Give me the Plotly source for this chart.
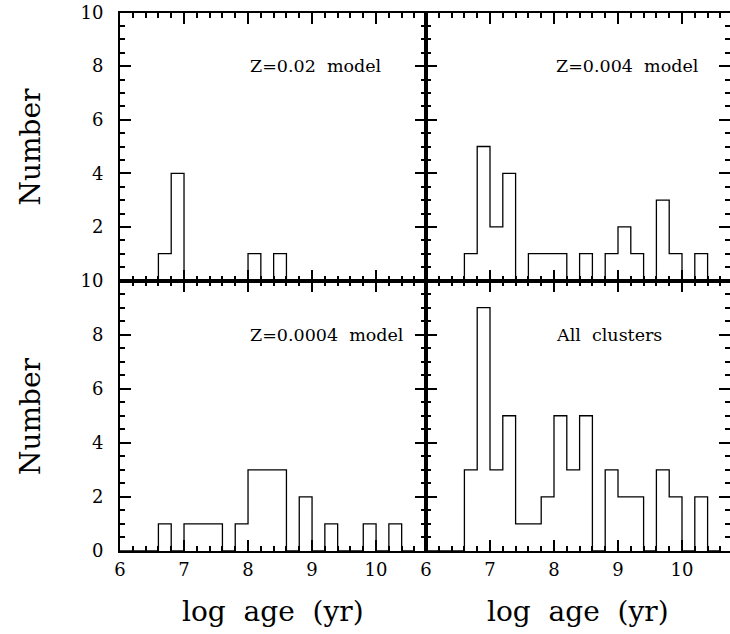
import numpy as np
import plotly.graph_objects as go

# Bin edges (log age, 0.2 dex bins)
bin_left = [6.0, 6.2, 6.4, 6.6, 6.8, 7.0, 7.2, 7.4, 7.6, 7.8, 8.0, 8.2,
            8.4, 8.6, 8.8, 9.0, 9.2, 9.4, 9.6, 9.8, 10.0, 10.2, 10.4]
bin_width = 0.2

counts_z002 = [0, 0, 0, 1, 4, 0, 0, 0, 0, 0, 1, 0, 1, 0, 0, 0, 0, 0, 0, 0, 0, 0, 0]
counts_z0004 = [0, 0, 0, 1, 5, 2, 4, 0, 1, 1, 1, 0, 1, 0, 1, 2, 1, 0, 3, 1, 0, 1, 0]
counts_z00004 = [0, 0, 0, 1, 0, 1, 1, 1, 0, 1, 3, 3, 3, 0, 2, 0, 1, 0, 0, 1, 0, 1, 0]
counts_all = [0, 0, 0, 3, 9, 3, 5, 1, 1, 2, 5, 3, 5, 0, 3, 2, 2, 0, 3, 2, 0, 2, 0]

panel_labels = ["Z=0.02\u00a0 model", "Z=0.004\u00a0 model",
                "Z=0.0004\u00a0 model", "All\u00a0 clusters"]
x_ticks = [6, 7, 8, 9, 10]
y_ticks = [0, 2, 4, 6, 8, 10]

series = [counts_z002, counts_z0004, counts_z00004, counts_all]

fig = go.Figure()
for i, c in enumerate(series):
    edges = list(bin_left) + [bin_left[-1] + bin_width]
    yv = list(c) + [0]
    sfx = "" if i == 0 else str(i + 1)
    fig.add_trace(go.Scatter(
        x=edges, y=yv, mode="lines", line=dict(shape="hv", color="black", width=1.3),
        xaxis="x" + sfx, yaxis="y" + sfx, showlegend=False, hoverinfo="skip"))

W, H = 730, 634
xl0, xm, xr = 120 / W, 426 / W, 1.0
yt_top, ymid, yb = 1 - 12.5 / H, 1 - 280.5 / H, 1 - 551 / H

tickfont = dict(family="DejaVu Serif", size=18, color="black")

def xaxis(domain, anchor, rng, labels):
    return dict(domain=domain, anchor=anchor, range=rng, showline=True, linecolor="black",
                linewidth=2, mirror="allticks", ticks="inside", ticklen=11, tickwidth=2,
                tickcolor="black", tickmode="array", tickvals=x_ticks,
                ticktext=[str(t) for t in x_ticks], showticklabels=labels,
                ticklabelstandoff=1,
                tickfont=tickfont, showgrid=False, zeroline=False, automargin=False,
                minor=dict(ticks="inside", ticklen=5, tickwidth=1.5, tickcolor="black",
                           dtick=0.2, tick0=6, showgrid=False))

def yaxis(domain, anchor, labels, hide_zero):
    txt = [("" if (hide_zero and t == 0) else str(t)) for t in y_ticks]
    return dict(domain=domain, anchor=anchor, range=[0, 10], showline=True, linecolor="black",
                linewidth=2, mirror="allticks", ticks="inside", ticklen=11, tickwidth=2,
                tickcolor="black", tickmode="array", tickvals=y_ticks, ticktext=txt,
                showticklabels=labels, tickfont=tickfont, showgrid=False, zeroline=False,
                ticklabelstandoff=11, automargin=False,
                minor=dict(ticks="inside", ticklen=5, tickwidth=1.5, tickcolor="black",
                           dtick=0.5, tick0=0, showgrid=False))

fig.update_layout(
    template="none",
    width=W, height=H, margin=dict(l=0, r=0, t=0, b=0, pad=0),
    paper_bgcolor="white", plot_bgcolor="white",
    xaxis=xaxis([xl0, xm], "y", [6, 10.78], False),
    yaxis=yaxis([ymid, yt_top], "x", True, True),
    xaxis2=xaxis([xm, xr], "y2", [6, 10.75], False),
    yaxis2=yaxis([ymid, yt_top], "x2", False, True),
    xaxis3=xaxis([xl0, xm], "y3", [6, 10.78], True),
    yaxis3=yaxis([yb, ymid], "x3", True, False),
    xaxis4=xaxis([xm, xr], "y4", [6, 10.75], True),
    yaxis4=yaxis([yb, ymid], "x4", False, False),
)

annfont = dict(family="DejaVu Serif", size=17.5, color="black")
for i, lab in enumerate(panel_labels):
    sfx = "" if i == 0 else str(i + 1)
    fig.add_annotation(x=8.0, y=8, xref="x" + sfx, yref="y" + sfx, text=lab,
                       showarrow=False, xanchor="left", yanchor="middle", font=annfont)

titlefont = dict(family="DejaVu Serif", size=28, color="black")
for yc in [146.5, 416]:
    fig.add_annotation(x=30 / W, y=1 - yc / H, xref="paper", yref="paper", text="Number",
                       textangle=-90, showarrow=False, xanchor="center", yanchor="middle",
                       font=titlefont)
for xc in [273, 578]:
    fig.add_annotation(x=xc / W, y=1 - 611 / H, xref="paper", yref="paper",
                       text="log\u00a0 age\u00a0 (yr)", showarrow=False,
                       xanchor="center", yanchor="middle", font=titlefont)

fig.write_html("out.html", config={"displayModeBar": False},
               post_script="document.body.style.margin='0';document.body.style.overflow='hidden';")
